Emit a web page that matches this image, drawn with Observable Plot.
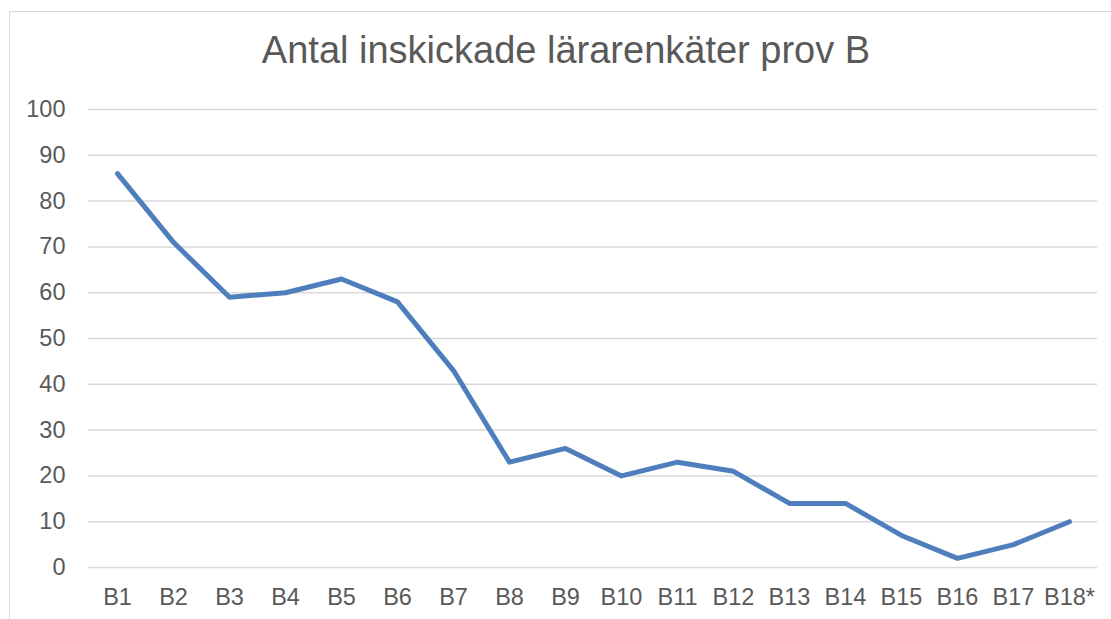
<!DOCTYPE html>
<html>
<head>
<meta charset="utf-8">
<script src="https://cdn.jsdelivr.net/npm/d3@7"></script>
<script src="https://cdn.jsdelivr.net/npm/@observablehq/plot@0.6"></script>
<style>
  html, body { margin: 0; padding: 0; background: #fff; overflow: hidden; }
  body { width: 1111px; height: 619px; position: relative; font-family: "Liberation Sans", Arial, sans-serif; }
  #frame { position: absolute; left: 9px; top: 11px; width: 1112px; height: 640px; border: 1px solid #d9d9d9; box-sizing: content-box; }
  #title { height: 80px; line-height: 80px; text-align: center; font-size: 38px; color: #595959; white-space: nowrap; margin-top: -2px; margin-bottom: 2px; }
</style>
</head>
<body>
<div id="frame">
  <div id="title">Antal inskickade lärarenkäter prov B</div>
  <div id="chart"></div>
</div>
<script>
const categories = ["B1","B2","B3","B4","B5","B6","B7","B8","B9","B10","B11","B12","B13","B14","B15","B16","B17","B18*"];
const values = [86, 71, 59, 60, 63, 58, 43, 23, 26, 20, 23, 21, 14, 14, 7, 2, 5, 10];
const yTicks = [0, 10, 20, 30, 40, 50, 60, 70, 80, 90, 100];

const data = categories.map((c, i) => ({ cat: c, value: values[i] }));

const chart = Plot.plot({
  width: 1112,
  height: 525,
  marginTop: 17,
  marginBottom: 50,
  marginLeft: 78,
  marginRight: 25,
  style: { fontFamily: "'Liberation Sans', Arial, sans-serif", fontSize: "23.5px", color: "#595959", background: "transparent", overflow: "visible" },
  x: { type: "point", domain: categories, padding: 0.5, label: null },
  y: { domain: [0, 100], label: null },
  marks: [
    Plot.ruleY(yTicks, { stroke: "#d9d9d9", strokeWidth: 1.5 }),
    Plot.axisY(yTicks, { tickSize: 0, tickPadding: 23, fill: "#595959", fontSize: 23.5, label: null }),
    Plot.axisX(categories, { tickSize: 0, tickPadding: 21, fill: "#595959", fontSize: 23.5, label: null }),
    Plot.line(data, { x: "cat", y: "value", stroke: "#4e7fbc", strokeWidth: 5, strokeLinecap: "round", strokeLinejoin: "round" })
  ]
});
document.getElementById("chart").appendChild(chart);
</script>
</body>
</html>
